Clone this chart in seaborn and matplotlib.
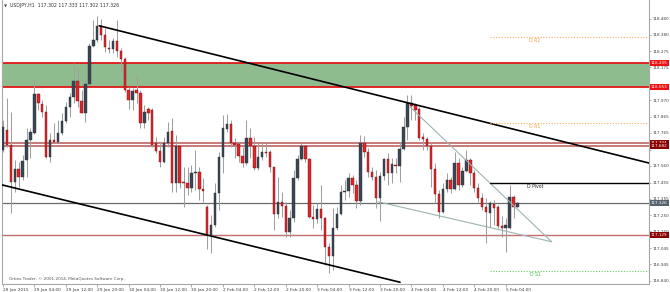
import numpy as np
import pandas as pd
import matplotlib
matplotlib.use("Agg")
import matplotlib.pyplot as plt
import matplotlib.transforms as mtransforms
import seaborn as sns

# ---------------- data (USDJPY H1, 28 Jan 20:00 -> 5 Feb 07:00) ----------------
opens = [117.659, 117.784, 117.690, 117.459, 117.540, 117.490, 117.596, 117.721, 117.765, 118.009,
         117.946, 117.896, 117.615, 117.721, 117.709, 117.765, 117.840, 117.927, 117.990, 118.090,
         117.965, 117.890, 118.071, 118.309, 118.346, 118.434, 118.377, 118.296, 118.290, 118.340,
         118.277, 118.227, 118.034, 117.971, 118.034, 118.015, 117.827, 117.915, 117.909, 117.702,
         117.652, 117.584, 117.702, 117.777, 117.452, 117.684, 117.459, 117.452, 117.421, 117.515,
         117.521, 117.415, 117.302, 117.127, 117.190, 117.390, 117.615, 117.790, 117.821, 117.702,
         117.696, 117.621, 117.577, 117.734, 117.684, 117.546, 117.615, 117.646, 117.646, 117.552,
         117.259, 117.334, 117.309, 117.146, 117.234, 117.484, 117.602, 117.684, 117.602, 117.240,
         117.227, 117.290, 117.234, 117.052, 116.996, 117.171, 117.259, 117.396, 117.402, 117.484,
         117.440, 117.340, 117.702, 117.646, 117.521, 117.490, 117.359, 117.496, 117.602, 117.515,
         117.565, 117.559, 117.665, 117.802, 117.952, 117.940, 117.915, 117.740, 117.727, 117.684,
         117.540, 117.384, 117.271, 117.415, 117.471, 117.415, 117.577, 117.440, 117.527, 117.596,
         117.515, 117.421, 117.359, 117.302, 117.265, 117.321, 117.302, 117.184, 117.171, 117.171,
         117.365, 117.302]
highs = [117.846, 117.984, 117.896, 117.596, 117.584, 117.627, 117.796, 117.796, 118.102, 118.015,
         117.971, 117.940, 117.765, 117.827, 117.846, 117.890, 117.959, 118.015, 118.202, 118.171,
         118.034, 118.109, 118.327, 118.471, 118.496, 118.477, 118.421, 118.346, 118.359, 118.471,
         118.296, 118.240, 118.052, 118.046, 118.127, 118.034, 117.940, 117.927, 117.921, 117.740,
         117.709, 117.740, 117.834, 117.859, 117.752, 117.690, 117.552, 117.552, 117.565, 117.659,
         117.552, 117.484, 117.315, 117.252, 117.452, 117.646, 117.877, 117.884, 117.846, 117.734,
         117.709, 117.677, 117.846, 117.796, 117.740, 117.709, 117.709, 117.709, 117.659, 117.552,
         117.490, 117.396, 117.334, 117.284, 117.534, 117.627, 117.702, 117.690, 117.609, 117.315,
         117.327, 117.440, 117.240, 117.077, 117.296, 117.302, 117.440, 117.471, 117.515, 117.502,
         117.471, 117.752, 117.746, 117.671, 117.552, 117.534, 117.521, 117.609, 117.640, 117.609,
         117.609, 117.709, 117.865, 118.002, 118.002, 117.952, 117.927, 117.765, 117.740, 117.702,
         117.577, 117.409, 117.452, 117.515, 117.490, 117.646, 117.609, 117.552, 117.659, 117.609,
         117.534, 117.452, 117.390, 117.359, 117.340, 117.346, 117.315, 117.246, 117.234, 117.440,
         117.377, 117.333]
lows = [117.646, 117.677, 117.265, 117.396, 117.427, 117.471, 117.490, 117.609, 117.759, 117.909,
        117.865, 117.609, 117.584, 117.702, 117.702, 117.752, 117.827, 117.865, 117.952, 117.927,
        117.890, 117.834, 118.065, 118.302, 118.334, 118.346, 118.271, 118.265, 118.265, 118.240,
        118.140, 118.021, 117.915, 117.909, 117.952, 117.796, 117.796, 117.846, 117.677, 117.640,
        117.552, 117.577, 117.677, 117.396, 117.396, 117.421, 117.302, 117.377, 117.396, 117.409,
        117.346, 117.334, 117.040, 117.015, 117.177, 117.284, 117.515, 117.771, 117.677, 117.609,
        117.584, 117.552, 117.565, 117.609, 117.534, 117.534, 117.596, 117.615, 117.521, 117.159,
        117.234, 117.240, 117.115, 117.115, 117.209, 117.471, 117.596, 117.584, 117.234, 117.171,
        117.202, 117.159, 116.940, 116.890, 116.909, 117.159, 117.252, 117.346, 117.365, 117.390,
        117.296, 117.315, 117.615, 117.490, 117.471, 117.296, 117.215, 117.471, 117.440, 117.452,
        117.515, 117.459, 117.659, 117.721, 117.846, 117.846, 117.721, 117.659, 117.659, 117.427,
        117.334, 117.234, 117.265, 117.396, 117.390, 117.409, 117.409, 117.427, 117.521, 117.440,
        117.396, 117.334, 117.284, 117.077, 117.177, 117.190, 117.171, 117.115, 117.021, 117.165,
        117.234, 117.302]
closes = [117.802, 117.690, 117.459, 117.540, 117.490, 117.590, 117.721, 117.771, 118.009, 117.952,
          117.896, 117.615, 117.721, 117.709, 117.765, 117.840, 117.927, 117.990, 118.090, 117.965,
          117.890, 118.071, 118.309, 118.346, 118.434, 118.377, 118.302, 118.290, 118.340, 118.277,
          118.227, 118.034, 117.971, 118.027, 118.015, 117.827, 117.896, 117.890, 117.690, 117.652,
          117.584, 117.702, 117.771, 117.452, 117.684, 117.452, 117.452, 117.421, 117.515, 117.521,
          117.415, 117.402, 117.127, 117.190, 117.390, 117.615, 117.796, 117.821, 117.702, 117.690,
          117.621, 117.577, 117.734, 117.684, 117.546, 117.615, 117.646, 117.640, 117.552, 117.259,
          117.334, 117.309, 117.146, 117.234, 117.484, 117.602, 117.684, 117.602, 117.240, 117.227,
          117.290, 117.234, 117.052, 116.996, 117.171, 117.259, 117.396, 117.402, 117.484, 117.440,
          117.340, 117.702, 117.646, 117.521, 117.490, 117.359, 117.496, 117.602, 117.515, 117.571,
          117.559, 117.665, 117.802, 117.952, 117.934, 117.909, 117.734, 117.727, 117.684, 117.540,
          117.384, 117.271, 117.415, 117.471, 117.415, 117.577, 117.440, 117.527, 117.596, 117.515,
          117.421, 117.359, 117.302, 117.271, 117.327, 117.296, 117.184, 117.171, 117.190, 117.365,
          117.302, 117.326]

time_tick_candles = [0, 8, 16, 24, 32, 40, 48, 56, 64, 72, 80, 88, 96, 104, 112, 120, 128]
time_tick_labels = ["28 Jan 2015", "29 Jan 04:00", "29 Jan 12:00", "29 Jan 20:00", "30 Jan 04:00",
                    "30 Jan 12:00", "30 Jan 20:00", "2 Feb 04:00", "2 Feb 12:00", "2 Feb 20:00",
                    "3 Feb 04:00", "3 Feb 12:00", "3 Feb 20:00", "4 Feb 04:00", "4 Feb 12:00",
                    "4 Feb 20:00", "5 Feb 04:00"]
price_ticks = [116.840, 116.945, 117.045, 117.150, 117.250, 117.355, 117.455, 117.560, 117.660,
               117.765, 117.865, 117.970, 118.070, 118.175, 118.275, 118.380, 118.480]
# tick labels that sit under a price tag in the reference are not printed
hidden_tick_labels = [117.660, 118.070]

zone_bottom = 118.053
zone_top = 118.205
resistance_levels = [117.704, 117.682]
support_level = 117.129
bid_price = 117.326

pivot_start = 124
pivot_names = ["D R2", "D R1", "D Pivot", "D S1"]
pivot_values = [118.365, 117.827, 117.452, 116.903]

upper_channel_x = [24.5, 164.5]
upper_channel_y = [118.435, 117.577]
lower_channel_x = [-1.0, 101.1]
lower_channel_y = [117.445, 116.832]
wedge_top_x = [103.6, 139.7]
wedge_top_y = [117.929, 117.085]
wedge_bottom_x = [95.5, 139.7]
wedge_bottom_y = [117.335, 117.085]

title_text = "USDJPY,H1  117.302 117.333 117.302 117.326"
copyright_text = "Orbex Trader, \u00a9 2001-2014, MetaQuotes Software Corp."

# ---------------- figure ----------------
sns.set_theme(style="white")
plt.rcParams["font.family"] = ["DejaVu Sans"]

W, H = 670, 292
fig = plt.figure(figsize=(W / 100, H / 100), dpi=100)
fig.patch.set_facecolor("white")
ax = fig.add_axes([1.5 / W, 8 / H, (649 - 1.5) / W, 284 / H])
ax.set_facecolor("white")

df = pd.DataFrame({"o": opens, "h": highs, "l": lows, "c": closes})
df["i"] = np.arange(len(df))
df["bull"] = df["c"] >= df["o"]
df["h"] = df[["h", "o", "c"]].max(axis=1)
df["l"] = df[["l", "o", "c"]].min(axis=1)
df["bottom"] = df[["o", "c"]].min(axis=1)
df["height"] = (df["c"] - df["o"]).abs().clip(lower=0.004)

# zone and levels (behind candles)
ax.axhspan(zone_bottom, zone_top, color="#8fbc8f", zorder=0.5, lw=0)
for v in (zone_bottom, zone_top):
    ax.axhline(v, color="#e01818", lw=1.3, zorder=0.8)
for v in resistance_levels:
    ax.axhline(v, color="#c46f6f", lw=1.3, zorder=0.8)
ax.axhline(support_level, color="#c46f6f", lw=1.0, zorder=0.8)
ax.axhline(bid_price, color="#6a6a6a", lw=0.9, zorder=0.8)

# candles
ax.vlines(df["i"], df["l"], df["h"], color="#a0a0a0", lw=0.75, zorder=2)
bull = df[df["bull"]]
bear = df[~df["bull"]]
ax.bar(bull["i"], bull["height"], bottom=bull["bottom"], width=0.62,
       color="#3b4652", edgecolor="#2a3038", lw=0.3, zorder=3)
ax.bar(bear["i"], bear["height"], bottom=bear["bottom"], width=0.62,
       color="#e0262b", edgecolor="#6e1010", lw=0.3, zorder=3)

# trend lines
sns.lineplot(x=upper_channel_x, y=upper_channel_y, ax=ax, color="black", lw=1.2, zorder=4)
sns.lineplot(x=lower_channel_x, y=lower_channel_y, ax=ax, color="black", lw=1.2, zorder=4)
sns.lineplot(x=wedge_top_x, y=wedge_top_y, ax=ax, color="#9fb3b3", lw=0.8, zorder=4)
sns.lineplot(x=wedge_bottom_x, y=wedge_bottom_y, ax=ax, color="#9fb3b3", lw=0.8, zorder=4)

# daily pivots
pivot_styles = {"D R2": ("#f5b060", (0, (1, 1.5)), 0.8, "#f0a040"),
                "D R1": ("#f5b060", (0, (1, 1.5)), 0.8, "#f0a040"),
                "D Pivot": ("black", "-", 1.0, "#222222"),
                "D S1": ("#66cc66", (0, (1, 1.5)), 0.8, "#44bb44")}
xmax = 164.5
for name, val in zip(pivot_names, pivot_values):
    col, ls, lw, tcol = pivot_styles[name]
    ax.plot([pivot_start, xmax], [val, val], color=col, ls=ls, lw=lw, zorder=4)
    ax.annotate(name, (135.5, val), xytext=(0, -0.8), textcoords="offset points",
                ha="center", va="top", fontsize=3.3, color=tcol, zorder=5)

# axes limits / ticks
ax.set_xlim((1.5 - 3) / 3.927, (649 - 3) / 3.927)
ax.set_ylim(116.821, 118.596)
ax.yaxis.tick_right()
ax.set_yticks(price_ticks)
ax.set_yticklabels(["" if v in hidden_tick_labels else f"{v:.3f}" for v in price_ticks])
ax.set_xticks(time_tick_candles)
ax.set_xticklabels(time_tick_labels)
for lab in ax.get_xticklabels():
    lab.set_ha("left")
ax.tick_params(axis="y", which="both", right=True, left=False, length=1.5, width=0.5,
               color="#909090", labelsize=3.0, labelcolor="#404040", pad=0.8)
ax.tick_params(axis="x", which="both", bottom=True, length=2, width=0.5,
               color="#909090", labelsize=3.1, labelcolor="#404040", pad=0.8)
for s in ("left", "bottom", "right"):
    ax.spines[s].set_color("#a8a8a8")
    ax.spines[s].set_linewidth(0.8)
ax.spines["top"].set_visible(False)
ax.grid(False)

# price tags on right axis
blend = mtransforms.blended_transform_factory(ax.transAxes, ax.transData)
tags = [(zone_top, "#ee1111"), (zone_bottom, "#ee1111"),
        (resistance_levels[0], "#8b0000"), (resistance_levels[1], "#8b0000"),
        (bid_price, "#56626e"), (support_level, "#8b0000")]
for val, col in tags:
    ax.text(1.003, val, f"{val:.3f}", transform=blend, ha="left", va="center",
            fontsize=3.0, color="white", clip_on=False, zorder=10,
            bbox=dict(boxstyle="square,pad=0.25", fc=col, ec="none"))

# header and footer text
fig.text(4 / W, 1 - 6 / H, "\u25bc", fontsize=2.8, color="#444444", va="center", ha="left")
fig.text(10 / W, 1 - 6 / H, title_text, fontsize=3.3, color="#333333", va="center", ha="left")
ax.text(1.5, 116.85, copyright_text, fontsize=3.0, color="#555555", va="center", ha="left", zorder=5)

fig.savefig("out.png", dpi=100, facecolor="white")
